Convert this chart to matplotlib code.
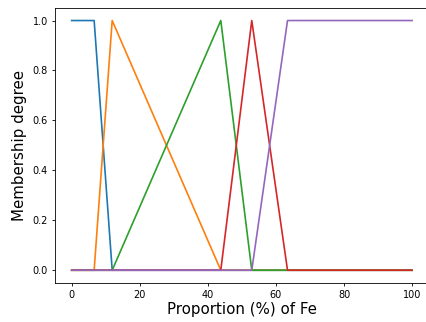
import numpy as np
import matplotlib
matplotlib.use("Agg")
import matplotlib.pyplot as plt

# breakpoints
x_vals = [0, 6.6, 11.9, 43.8, 52.9, 63.4, 100]

very_low = [1, 1, 0, 0, 0, 0, 0]
low = [0, 0, 1, 0, 0, 0, 0]
medium = [0, 0, 0, 1, 0, 0, 0]
high = [0, 0, 0, 0, 1, 0, 0]
very_high = [0, 0, 0, 0, 0, 1, 1]

plt.rcParams['axes.linewidth'] = 0.6

fig = plt.figure(figsize=(4.27, 3.22), dpi=100)
ax = fig.add_axes([0.128, 0.122, 0.877, 0.853])

for series in [very_low, low, medium, high, very_high]:
    ax.plot(x_vals, series, linewidth=1.2)

ax.set_xlabel("Proportion (%) of Fe", fontsize=10.8, labelpad=2)
ax.set_ylabel("Membership degree", fontsize=10.8, labelpad=4)
ax.tick_params(labelsize=7, length=2.5, width=0.6, pad=2.5)

plt.savefig("out.png", dpi=100)
